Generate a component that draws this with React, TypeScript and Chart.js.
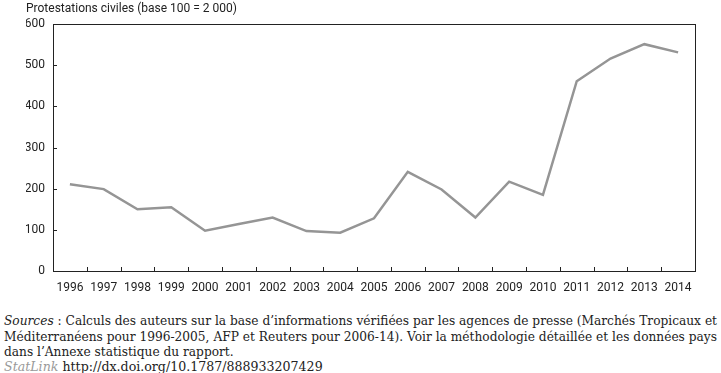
import React, { useEffect, useRef } from "react";
import { Chart, registerables } from "chart.js";

Chart.register(...registerables);

const categories = ["1996","1997","1998","1999","2000","2001","2002","2003","2004","2005","2006","2007","2008","2009","2010","2011","2012","2013","2014"];
const protestValues = [211,199,150,155,98,114,130,97,93,128,241,198,130,217,185,461,516,551,531];
const yTickValues = [0,100,200,300,400,500,600];
const titleText = "Protestations civiles (base 100 = 2 000)";

const chartFont = 'Roboto, "Liberation Sans", Arial, sans-serif';

const framePlugin = {
  id: "frameTicks",
  afterDraw(chart: any) {
    const { ctx, chartArea, scales } = chart;
    const { left, right, top, bottom } = chartArea;
    const x = scales.x;
    const y = scales.y;
    ctx.save();
    ctx.strokeStyle = "#222";
    ctx.lineWidth = 1;
    ctx.strokeRect(Math.round(left) + 0.5, Math.round(top) + 0.5, Math.round(right - left), Math.round(bottom - top));
    ctx.beginPath();
    yTickValues.forEach((v) => {
      const py = Math.round(y.getPixelForValue(v)) + 0.5;
      ctx.moveTo(left, py);
      ctx.lineTo(left + 4, py);
    });
    for (let i = 1; i < categories.length; i++) {
      const px = Math.round((x.getPixelForValue(i - 1) + x.getPixelForValue(i)) / 2) + 0.5;
      ctx.moveTo(px, bottom);
      ctx.lineTo(px, bottom - 4);
    }
    ctx.stroke();
    ctx.restore();
  },
};

export default function App() {
  const canvasRef = useRef<HTMLCanvasElement | null>(null);

  useEffect(() => {
    if (!canvasRef.current) return;
    const chart = new Chart(canvasRef.current, {
      type: "line",
      data: {
        labels: categories,
        datasets: [
          {
            data: protestValues,
            borderColor: "#959595",
            borderWidth: 2.5,
            pointRadius: 0,
            tension: 0,
            fill: false,
          },
        ],
      },
      options: {
        animation: false,
        responsive: false,
        devicePixelRatio: 1,
        layout: { padding: { left: 26, right: 26, top: 0, bottom: 0 } },
        plugins: {
          legend: { display: false },
          tooltip: { enabled: false },
          title: {
            display: true,
            text: titleText,
            align: "start",
            color: "#222",
            font: { family: chartFont, size: 12, weight: "normal" },
            padding: { top: 2, bottom: 7.6 },
          },
        },
        scales: {
          x: {
            offset: true,
            grid: { display: false, offset: true, drawTicks: false },
            border: { display: false },
            ticks: {
              color: "#222",
              font: { family: chartFont, size: 12 },
              padding: 10,
              maxRotation: 0,
              autoSkip: false,
            },
            afterFit: (s: any) => { s.height = 29; },
          },
          y: {
            min: 0,
            max: 600,
            grid: { display: false, drawTicks: false },
            border: { display: false },
            ticks: {
              stepSize: 100,
              color: "#222",
              font: { family: chartFont, size: 12 },
              padding: 8,
            },
            afterFit: (s: any) => { s.width = 27; },
          },
        },
      },
      plugins: [framePlugin],
    });
    return () => chart.destroy();
  }, []);

  const serif = '"DejaVu Serif", "Liberation Serif", serif';
  const lineStyle: React.CSSProperties = {
    position: "absolute",
    left: 4,
    width: 713,
    fontFamily: serif,
    fontSize: 12.2,
    lineHeight: "15px",
    color: "#222",
    whiteSpace: "nowrap",
  };
  const justified: React.CSSProperties = {
    ...lineStyle,
    whiteSpace: "normal",
    textAlign: "justify",
    textAlignLast: "justify",
  };

  return (
    <div style={{ position: "absolute", left: 0, top: 0, width: 721, height: 373, background: "#fff", overflow: "hidden" }}>
      <canvas ref={canvasRef} width={721} height={300} style={{ position: "absolute", left: 0, top: 0, width: 721, height: 300 }} />
      <div style={{ ...justified, top: 314 }}>
        <i>Sources</i> : Calculs des auteurs sur la base d’informations vérifiées par les agences de presse (Marchés Tropicaux et
      </div>
      <div style={{ ...justified, top: 330 }}>
        Méditerranéens pour 1996-2005, AFP et Reuters pour 2006-14). Voir la méthodologie détaillée et les données pays
      </div>
      <div style={{ ...lineStyle, top: 345 }}>dans l’Annexe statistique du rapport.</div>
      <div style={{ ...lineStyle, top: 359, fontSize: 12.6 }}>
        <i style={{ color: "#9a9a9a" }}>StatLink</i> http://dx.doi.org/10.1787/888933207429
      </div>
    </div>
  );
}
